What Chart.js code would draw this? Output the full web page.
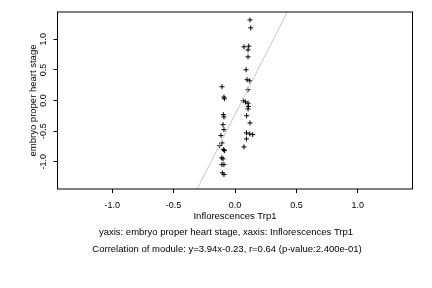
<!DOCTYPE html>
<html>
<head>
<meta charset="utf-8">
<script src="https://cdn.jsdelivr.net/npm/chart.js@4.4.0/dist/chart.umd.min.js"></script>
<style>
  html, body { margin: 0; padding: 0; background: #fff; }
  canvas { display: block; }
</style>
</head>
<body>
<canvas id="scatterChart" width="432" height="288"></canvas>
<script>
// values
const xValues = [0.122, 0.128, 0.073, 0.112, 0.106, 0.106, 0.090, 0.098, 0.120, -0.106,
    0.106, -0.090, -0.086, 0.067, 0.085, 0.106, 0.109, 0.106, -0.095, -0.090,
    0.095, 0.122, -0.098, -0.090, -0.114, 0.093, 0.120, 0.144, 0.093, -0.106,
    -0.125, 0.073, -0.095, -0.086, -0.108, -0.098, -0.106, -0.090, -0.103, -0.090];
const yValues = [1.316, 1.186, 0.876, 0.888, 0.827, 0.713, 0.502, 0.339, 0.322, 0.225,
    0.176, 0.057, 0.029, -0.003, -0.024, -0.044, -0.096, -0.138, -0.231, -0.269,
    -0.248, -0.366, -0.394, -0.476, -0.573, -0.529, -0.546, -0.557, -0.627, -0.692,
    -0.736, -0.757, -0.801, -0.818, -0.936, -0.953, -1.046, -1.046, -1.181, -1.208];
const tickValues = [-1.0, -0.5, 0.0, 0.5, 1.0];
const axisLimits = [-1.445, 1.445];
const fitSlope = 3.94;
const fitIntercept = -0.23;

const xTitle = 'Inflorescences Trp1';
const yTitle = 'embryo proper heart stage';
const captionLines = [
    'yaxis: embryo proper heart stage, xaxis: Inflorescences Trp1',
    'Correlation of module: y=3.94x-0.23, r=0.64 (p-value:2.400e-01)'
];

const FONT = '"Liberation Sans", Arial, Helvetica, sans-serif';

const points = xValues.map((x, i) => ({ x: x, y: yValues[i] }));
const fitLine = axisLimits.map(x => ({ x: x, y: fitSlope * x + fitIntercept }));

// box round the plot, rotated y tick labels and the two caption lines
const extras = {
    id: 'extras',
    afterDraw(chart) {
        const c = chart.ctx;
        const a = chart.chartArea;
        c.save();
        c.strokeStyle = '#000';
        c.lineWidth = 1;
        c.strokeRect(a.left, a.top, a.right - a.left, a.bottom - a.top);

        c.fillStyle = '#000';
        c.font = '9px ' + FONT;
        c.textAlign = 'center';
        c.textBaseline = 'middle';
        const ys = chart.scales.y;
        ys.ticks.forEach(t => {
            const py = ys.getPixelForValue(t.value);
            c.save();
            c.translate(43.5, py);
            c.rotate(-Math.PI / 2);
            c.fillText(t.value.toFixed(1), 0, 0);
            c.restore();
        });

        c.font = '9.5px ' + FONT;
        c.fillText(captionLines[0], 226, 232);
        c.fillText(captionLines[1], 227, 249);
        c.restore();
    }
};

new Chart(document.getElementById('scatterChart'), {
    type: 'scatter',
    data: {
        datasets: [{
            type: 'line',
            data: fitLine,
            borderColor: '#c8c8c8',
            borderWidth: 1,
            pointRadius: 0,
            fill: false
        }, {
            data: points,
            pointStyle: 'cross',
            pointRadius: 2.5,
            borderColor: '#000',
            backgroundColor: '#000',
            borderWidth: 1
        }]
    },
    options: {
        responsive: false,
        devicePixelRatio: 1,
        animation: false,
        layout: { padding: { left: 0, top: 12, right: 19.5, bottom: 0 } },
        plugins: {
            legend: { display: false },
            tooltip: { enabled: false }
        },
        scales: {
            x: {
                type: 'linear',
                min: axisLimits[0],
                max: axisLimits[1],
                afterBuildTicks: s => { s.ticks = tickValues.map(v => ({ value: v })); },
                afterFit: s => { s.height = 99; },
                border: { display: false },
                grid: { drawOnChartArea: false, drawTicks: true, tickLength: 4, color: '#000' },
                ticks: {
                    color: '#000',
                    padding: 7,
                    maxRotation: 0,
                    font: { family: FONT, size: 9 },
                    callback: v => v.toFixed(1)
                },
                title: {
                    display: true,
                    text: xTitle,
                    color: '#000',
                    font: { family: FONT, size: 9.5 },
                    padding: { top: 0, bottom: 66 }
                }
            },
            y: {
                type: 'linear',
                min: axisLimits[0],
                max: axisLimits[1],
                afterBuildTicks: s => { s.ticks = tickValues.map(v => ({ value: v })); },
                afterFit: s => { s.width = 57.5; },
                border: { display: false },
                grid: { drawOnChartArea: false, drawTicks: true, tickLength: 4, color: '#000' },
                ticks: { display: false },
                title: {
                    display: true,
                    text: yTitle,
                    color: '#000',
                    font: { family: FONT, size: 9.5 },
                    padding: { top: 28, bottom: 0 }
                }
            }
        }
    },
    plugins: [extras]
});
</script>
</body>
</html>
